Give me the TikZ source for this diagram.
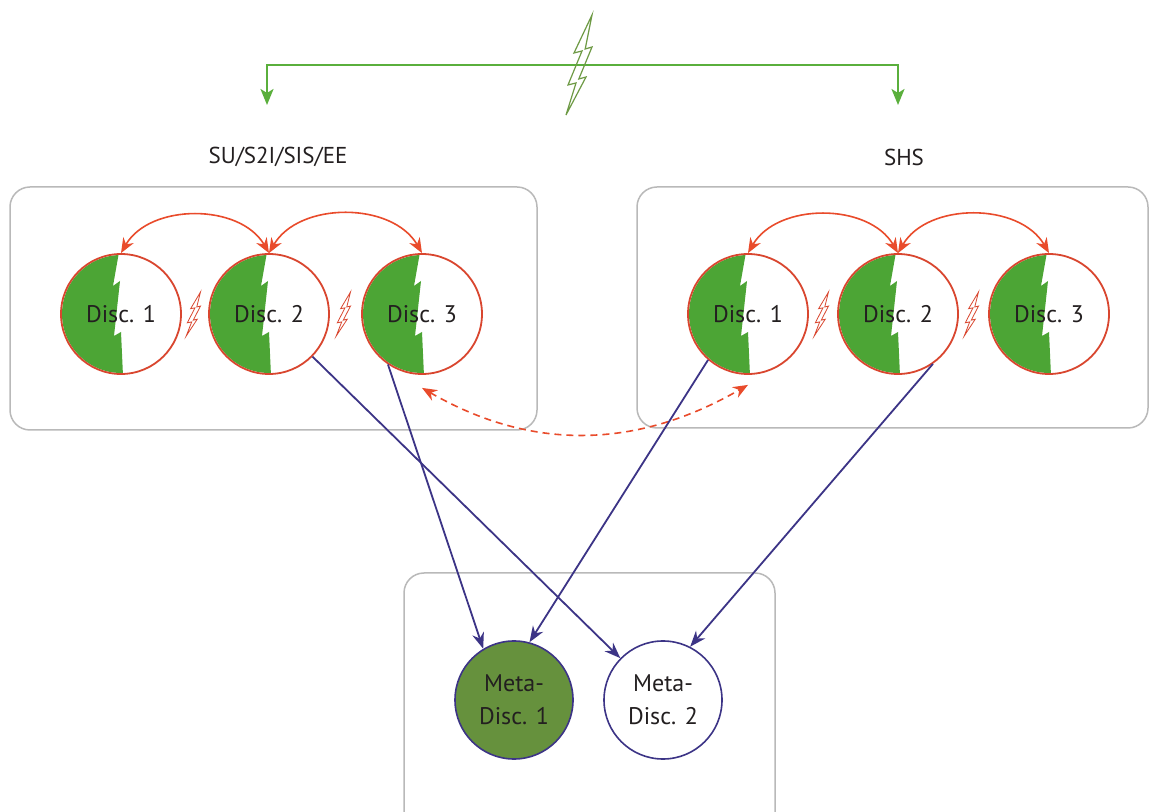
\documentclass[tikz,border=0pt]{standalone}
\usepackage{fontspec}
\setmainfont{PT Sans}
\usetikzlibrary{arrows.meta, backgrounds}

\definecolor{discgreen}{HTML}{4CA535}
\definecolor{discred}{HTML}{D9462F}
\definecolor{linkred}{HTML}{E94B2B}
\definecolor{feedgreen}{HTML}{5AAF3C}
\definecolor{boltgreen}{HTML}{6E9A45}
\definecolor{navy}{HTML}{3C3486}
\definecolor{metagreen}{HTML}{66913D}
\definecolor{panelgray}{HTML}{B9B9B9}
\definecolor{ink}{HTML}{231F20}

\tikzset{
  bolt/.pic = {
    \path[pic actions] (0.25,0.5) -- (-0.2,0.12) -- (0,0.14) -- (-0.35,-0.2)
      -- (-0.15,-0.18) -- (-0.4,-0.5) -- (0.1,-0.12) -- (-0.08,-0.14)
      -- (0.25,0.18) -- (0.08,0.16) -- cycle;
  }
}

\begin{document}
\begin{tikzpicture}[x=1pt, y=1pt, text=ink,
    disc/.style = {draw=discred, line width=1.8pt, circle,
      minimum size=120pt, inner sep=0pt, font=\fontsize{24}{28}\selectfont},
    meta/.style = {draw=navy, line width=1.6pt, circle, minimum size=118pt,
      inner sep=0pt, align=center, font=\fontsize{24}{33}\selectfont},
    label/.style = {font=\fontsize{23}{27}\selectfont},
    panel/.style = {draw=panelgray, line width=1.5pt, rounded corners=20pt},
    feed/.style = {draw=feedgreen, line width=2.2pt, -{Stealth[length=16pt,width=13pt,inset=4pt]}},
    rel/.style = {draw=linkred, line width=1.6pt, >={Stealth[length=15pt,width=12pt]}, <->},
    flow/.style = {draw=navy, line width=1.8pt, -{Stealth[length=16pt,width=12pt]}},
    spark/.style = {draw=discred, fill=white, line width=0.8pt}]

  \clip (0,0) rectangle (1153,811);

  % panels
  \draw[panel] (10,381) rectangle (537,624);
  \draw[panel] (637,383) rectangle (1148,624);
  \draw[panel] (404,-30) rectangle (775,238);

  % top split
  \coordinate (src) at (581,746);
  \coordinate (tipL) at (267,706);
  \coordinate (tipR) at (898,706);
  \draw[feed] (src) -| (tipL);
  \draw[feed] (src) -| (tipR);
  \pic[draw=boltgreen, line width=1.2pt, xscale=40, yscale=100] at (582,746) {bolt};

  \node[label] at (278,654) (lblL) {SU/S2I/SIS/EE};
  \node[label] at (904,654) (lblR) {SHS};

  % disciplines
  \node[disc] at (121,497) (L1) {Disc. 1};
  \node[disc] at (269,497) (L2) {Disc. 2};
  \node[disc] at (422,497) (L3) {Disc. 3};
  \node[disc] at (748,497) (R1) {Disc. 1};
  \node[disc] at (898,497) (R2) {Disc. 2};
  \node[disc] at (1049,497) (R3) {Disc. 3};

  % green halves under the discs
  \begin{pgfonlayer}{background}
    \fill[white] (0,0) rectangle (1153,811);
    \foreach \d in {L1,L2,L3,R1,R2,R3} {
      \begin{scope}
        \clip (\d.center) circle (59);
        \fill[discgreen, shift={(\d.center)}] (-70,70) -- (-2,70) -- (-2,62)
          -- (-8,28) -- (-1,33) -- (-7,-22) -- (0,-18) -- (2,-62) -- (2,-70)
          -- (-70,-70) -- cycle;
      \end{scope}
    }
  \end{pgfonlayer}

  \pic[spark, xscale=22, yscale=44] at (195,497) {bolt};
  \pic[spark, xscale=22, yscale=44] at (345,497) {bolt};
  \pic[spark, xscale=22, yscale=44] at (823,497) {bolt};
  \pic[spark, xscale=22, yscale=44] at (973,497) {bolt};

  \node[meta, fill=metagreen] at (514,111) (M1) {Meta-\\Disc. 1};
  \node[meta, fill=white] at (663,111) (M2) {Meta-\\Disc. 2};

  \draw[rel] (L1.north) to[out=60, in=120] (L2.north);
  \draw[rel] (L2.north) to[out=60, in=120] (L3.north);
  \draw[rel] (R1.north) to[out=60, in=120] (R2.north);
  \draw[rel] (R2.north) to[out=60, in=120] (R3.north);
  \draw[rel, dashed, dash pattern=on 7pt off 5pt]
    ([yshift=-13]L3.south) to[out=-30, in=-150] ([yshift=-10]R1.south);

  \draw[flow] (L2) -- (M2);
  \draw[flow] (L3.236) -- (M1.121);
  \draw[flow] (R1.229) -- (M1.75);
  \draw[flow] (R2.305) -- (M2.63);
\end{tikzpicture}
\end{document}
